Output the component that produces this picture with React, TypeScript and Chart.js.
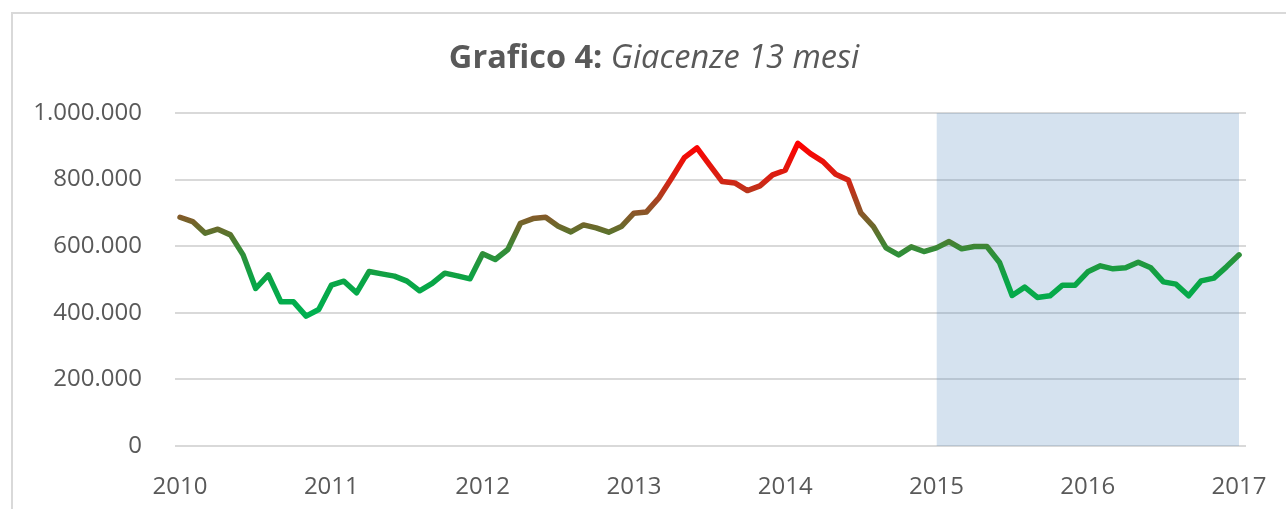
import { useEffect, useRef } from 'react';
import { Chart, registerables } from 'chart.js';

Chart.register(...registerables);

// Year tick labels (one every 12 months, starting January 2010)
const yearLabels = ['2010', '2011', '2012', '2013', '2014', '2015', '2016', '2017'];

// Monthly stock values ("Giacenze 13 mesi"), January -> December
const giacenze2010 = [687000, 674000, 639000, 651000, 634000, 574000, 473000, 514000, 433000, 433000, 390000, 410000];
const giacenze2011 = [483000, 495000, 460000, 524000, 517000, 510000, 495000, 466000, 488000, 519000, 511000, 502000];
const giacenze2012 = [577000, 560000, 590000, 669000, 683000, 687000, 660000, 643000, 664000, 655000, 642000, 659000];
const giacenze2013 = [699000, 703000, 746000, 805000, 866000, 895000, 844000, 794000, 790000, 767000, 781000, 814000];
const giacenze2014 = [828000, 909000, 878000, 854000, 816000, 799000, 700000, 659000, 595000, 574000, 598000, 584000];
const giacenze2015 = [595000, 614000, 592000, 599000, 599000, 551000, 452000, 477000, 446000, 451000, 483000, 483000];
const giacenze2016 = [523000, 541000, 532000, 535000, 552000, 535000, 493000, 486000, 451000, 496000, 504000, 538000];
const giacenze2017 = [574000];

// Y axis ticks
const yTicks = [0, 200000, 400000, 600000, 800000, 1000000];

// Highlighted period (month index: 2015 -> 2017)
const shadedFrom = 60;
const shadedTo = 84;
const shadedTop = 1000000;

const titleBold = 'Grafico 4:';
const titleItalic = 'Giacenze 13 mesi';

// Colour ramp of the line by value
const rampValues = [910000, 800000, 700000, 640000, 590000, 500000, 400000];
const rampColors = ['#ff0000', '#d52314', '#8a5628', '#5c722d', '#368b37', '#0aa546', '#00b050'];

const FONT = '"Open Sans", "Noto Sans", sans-serif';
const TEXT_COLOR = '#595959';

function fmtIt(v: number): string {
  return String(Math.round(v)).replace(/\B(?=(\d{3})+(?!\d))/g, '.');
}

export default function App() {
  const ref = useRef<HTMLCanvasElement>(null);

  useEffect(() => {
    if (!ref.current) return;
    const values = [
      ...giacenze2010, ...giacenze2011, ...giacenze2012, ...giacenze2013,
      ...giacenze2014, ...giacenze2015, ...giacenze2016, ...giacenze2017,
    ];
    const points = values.map((y, x) => ({ x, y }));

    const titlePlugin = {
      id: 'mixedTitle',
      afterDraw(chart: any) {
        const ctx = chart.ctx as CanvasRenderingContext2D;
        ctx.save();
        ctx.fillStyle = TEXT_COLOR;
        ctx.textBaseline = 'alphabetic';
        ctx.textAlign = 'left';
        const boldFont = `bold 32.5px ${FONT}`;
        const italFont = `italic 32.5px ${FONT}`;
        ctx.font = boldFont;
        const w1 = ctx.measureText(titleBold + ' ').width;
        ctx.font = italFont;
        const w2 = ctx.measureText(titleItalic).width;
        const x0 = 654 - (w1 + w2) / 2;
        ctx.font = boldFont;
        ctx.fillText(titleBold + ' ', x0, 68);
        ctx.font = italFont;
        ctx.fillText(titleItalic, x0 + w1, 68);
        ctx.restore();
      },
    };

    const lineColor = (context: any) => {
      const chart = context.chart;
      const { ctx, chartArea, scales } = chart;
      if (!chartArea) return rampColors[rampColors.length - 1];
      const y = scales.y;
      const top = y.getPixelForValue(1000000);
      const bottom = y.getPixelForValue(0);
      const g = ctx.createLinearGradient(0, top, 0, bottom);
      rampValues.forEach((v, i) => {
        const p = (y.getPixelForValue(v) - top) / (bottom - top);
        g.addColorStop(Math.min(1, Math.max(0, p)), rampColors[i]);
      });
      return g;
    };

    const chart = new Chart(ref.current, {
      type: 'line',
      data: {
        datasets: [
          {
            label: 'Giacenze 13 mesi',
            data: points,
            borderColor: lineColor,
            borderWidth: 5.5,
            borderCapStyle: 'round',
            borderJoinStyle: 'round',
            pointRadius: 0,
            tension: 0,
            fill: false,
          },
          {
            label: 'periodo',
            data: [
              { x: shadedFrom, y: shadedTop },
              { x: shadedTo, y: shadedTop },
            ],
            borderWidth: 0,
            borderColor: 'rgba(0,0,0,0)',
            backgroundColor: 'rgba(87,139,191,0.25)',
            pointRadius: 0,
            fill: 'origin',
          },
        ],
      },
      options: {
        animation: false,
        responsive: false,
        devicePixelRatio: 1,
        layout: { padding: { top: 113, right: 40, bottom: 13, left: 0 } },
        plugins: {
          legend: { display: false },
          title: { display: false },
          tooltip: { enabled: false },
        },
        scales: {
          x: {
            type: 'linear',
            min: -0.4,
            max: 84.55,
            afterBuildTicks: (s: any) => {
              s.ticks = yearLabels.map((_, k) => ({ value: k * 12 }));
            },
            afterFit: (s: any) => {
              s.height = 50;
              s.paddingLeft = 0;
              s.paddingRight = 0;
            },
            grid: { display: false, drawTicks: false },
            border: { display: false },
            ticks: {
              padding: 27,
              autoSkip: false,
              maxRotation: 0,
              color: TEXT_COLOR,
              font: { family: FONT, size: 24 },
              callback: (v: any) => yearLabels[Math.round(Number(v) / 12)] ?? '',
            },
          },
          y: {
            min: 0,
            max: 1000000,
            afterBuildTicks: (s: any) => {
              s.ticks = yTicks.map((v) => ({ value: v }));
            },
            afterFit: (s: any) => {
              s.width = 175;
              s.paddingTop = 0;
              s.paddingBottom = 0;
            },
            grid: { color: '#d9d9d9', lineWidth: 2, drawTicks: false },
            border: { display: false },
            ticks: {
              padding: 33,
              color: TEXT_COLOR,
              font: { family: FONT, size: 24 },
              callback: (v: any) => fmtIt(Number(v)),
            },
          },
        },
      },
      plugins: [titlePlugin],
    } as any);

    return () => chart.destroy();
  }, []);

  return (
    <div
      style={{
        position: 'absolute',
        left: 0,
        top: 0,
        width: 1286,
        height: 509,
        overflow: 'hidden',
        background: '#ffffff',
      }}
    >
      <div
        style={{
          position: 'absolute',
          left: 11,
          top: 12,
          width: 1400,
          height: 600,
          borderTop: '2px solid #d9d9d9',
          borderLeft: '2px solid #d9d9d9',
        }}
      />
      <canvas
        ref={ref}
        width={1286}
        height={509}
        style={{ position: 'absolute', left: 0, top: 0 }}
      />
    </div>
  );
}
